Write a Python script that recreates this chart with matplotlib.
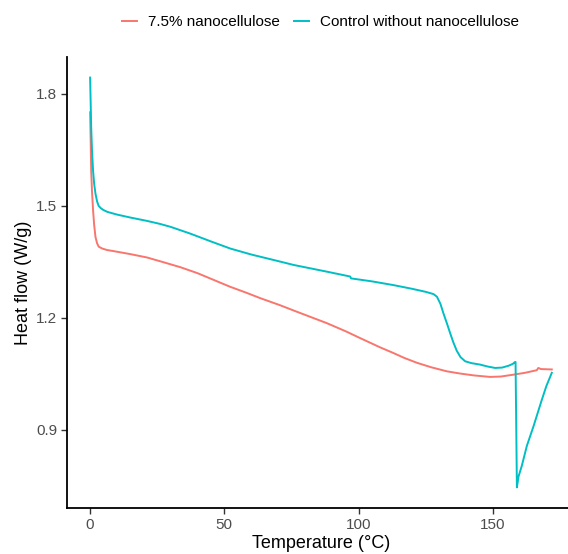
import matplotlib
matplotlib.use("Agg")
import matplotlib.pyplot as plt
import numpy as np

plt.rcParams['font.family'] = ['Liberation Sans', 'DejaVu Sans']

# DSC traces, temperature (°C) vs heat flow (W/g)
nano_temp = [0.0, 0.2, 0.4, 0.7, 1.1, 1.5, 2.0, 2.6, 3.2, 4.5, 6.3, 8.8, 15.0,
             21.2, 27.0, 33.6, 40.0, 46.0, 52.0, 58.4, 63.4, 70.8, 75.8, 82.0,
             88.2, 95.0, 100.6, 108.1, 113.0, 117.0, 121.7, 127.0, 132.9, 137.9,
             143.0, 149.0, 153.0, 157.7, 162.0, 166.4, 167.0, 168.0, 172.0]
nano_flow = [1.751, 1.680, 1.595, 1.540, 1.489, 1.450, 1.417, 1.400, 1.391, 1.386, 1.382, 1.379, 1.371,
             1.362, 1.350, 1.336, 1.320, 1.302, 1.284, 1.267, 1.253, 1.234, 1.220, 1.203,
             1.186, 1.165, 1.146, 1.121, 1.106, 1.093, 1.080, 1.068, 1.057, 1.051,
             1.046, 1.042, 1.043, 1.048, 1.053, 1.060, 1.066, 1.063, 1.062]

ctrl_temp = [0.0, 0.2, 0.4, 0.7, 1.1, 1.5, 2.0, 2.6, 3.2, 4.0, 5.0, 6.5, 10.0,
             15.0, 21.2, 26.0, 30.0, 37.3, 45.0, 52.2, 60.0, 70.8, 75.8, 88.2, 96.9,
             97.2, 105.0, 113.0, 120.0, 125.0, 127.9, 129.2, 130.5, 131.6, 132.9,
             134.1, 135.3, 136.6, 138.0, 139.7, 142.0, 145.3, 148.0, 150.9, 153.5,
             155.9, 157.5, 158.3, 158.5, 159.0, 159.6, 160.8, 162.7, 165.2, 168.3,
             170.0, 172.0]
ctrl_flow = [1.844, 1.780, 1.711, 1.650, 1.595, 1.560, 1.533, 1.512, 1.500, 1.494, 1.489, 1.484, 1.477,
             1.469, 1.460, 1.452, 1.444, 1.426, 1.405, 1.386, 1.370, 1.351, 1.342, 1.324, 1.311,
             1.306, 1.298, 1.288, 1.278, 1.270, 1.264, 1.257, 1.238, 1.213, 1.186,
             1.160, 1.135, 1.112, 1.095, 1.084, 1.079, 1.075, 1.070, 1.066, 1.067,
             1.072, 1.077, 1.082, 1.082, 0.746, 0.775, 0.803, 0.857, 0.910, 0.981,
             1.018, 1.053]

labels = ['7.5% nanocellulose', 'Control without nanocellulose']
colors = ['#F8766D', '#00BFC4']

fig = plt.figure(figsize=(5.68, 5.54), dpi=100)
ax = fig.add_axes([0.118, 0.0825, 0.896, 0.8152])

ax.plot(nano_temp, nano_flow, color=colors[0], lw=1.4, label=labels[0])
ax.plot(ctrl_temp, ctrl_flow, color=colors[1], lw=1.4, label=labels[1])

ax.set_xlim(-8.6, 181)
ax.set_ylim(0.690, 1.900)
ax.set_xticks([0, 50, 100, 150])
ax.set_yticks([0.9, 1.2, 1.5, 1.8])
ax.set_yticklabels(['0.9', '1.2', '1.5', '1.8'])

for s in ['top', 'right']:
    ax.spines[s].set_visible(False)
for s in ['left', 'bottom']:
    ax.spines[s].set_linewidth(1.3)
    ax.spines[s].set_color('black')
ax.tick_params(axis='both', length=4, width=1.0, color='#333333',
               labelsize=11, labelcolor='#4D4D4D', pad=3)

ax.set_xlabel('Temperature (°C)', fontsize=13, labelpad=2)
ax.set_ylabel('Heat flow (W/g)', fontsize=13, labelpad=3)

fig.legend(loc='center', bbox_to_anchor=(0.564, 0.96), ncol=2, frameon=False,
           fontsize=11, handlelength=1.0, columnspacing=0.9, handletextpad=0.7)

fig.savefig('out.png', dpi=100)
